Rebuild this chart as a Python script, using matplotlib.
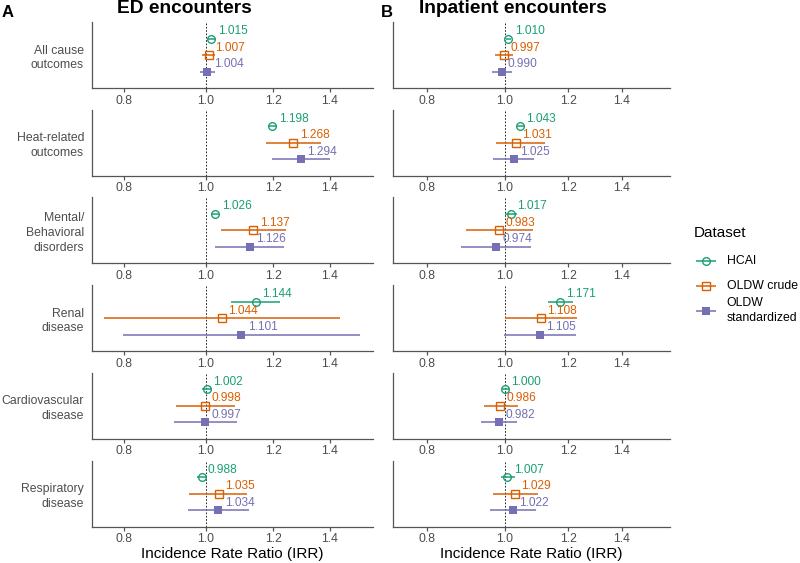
import matplotlib
matplotlib.use("Agg")
import matplotlib.pyplot as plt
from matplotlib.ticker import FixedLocator, FixedFormatter, NullLocator

plt.rcParams['font.family'] = ['Liberation Sans', 'DejaVu Sans']

# ---------------- data ----------------
outcomes = ["All cause\noutcomes", "Heat-related\noutcomes", "Mental/\nBehavioral\ndisorders",
            "Renal\ndisease", "Cardiovascular\ndisease", "Respiratory\ndisease"]
datasets = ["HCAI", "OLDW crude", "OLDW\nstandardized"]
colors = ["#1B9E77", "#D95F02", "#7570B3"]

# ED encounters: rows = datasets (HCAI, OLDW crude, OLDW standardized), cols = outcomes
ed_est = [[1.015, 1.198, 1.026, 1.144, 1.002, 0.988],
          [1.007, 1.268, 1.137, 1.044, 0.998, 1.035],
          [1.004, 1.294, 1.126, 1.101, 0.997, 1.034]]
ed_lo = [[1.006, 1.185, 1.014, 1.069, 0.988, 0.976],
         [0.988, 1.176, 1.042, 0.758, 0.922, 0.956],
         [0.984, 1.198, 1.025, 0.797, 0.917, 0.951]]
ed_hi = [[1.024, 1.212, 1.037, 1.223, 1.016, 1.001],
         [1.025, 1.366, 1.242, 1.439, 1.082, 1.119],
         [1.025, 1.400, 1.237, 1.520, 1.087, 1.125]]

# Inpatient encounters
ip_est = [[1.010, 1.043, 1.017, 1.171, 1.000, 1.007],
          [0.997, 1.031, 0.983, 1.108, 0.986, 1.029],
          [0.990, 1.025, 0.974, 1.105, 0.982, 1.022]]
ip_lo = [[1.003, 1.035, 1.000, 1.133, 0.991, 0.988],
         [0.972, 0.974, 0.894, 1.000, 0.940, 0.966],
         [0.962, 0.967, 0.881, 0.998, 0.933, 0.958]]
ip_hi = [[1.017, 1.055, 1.034, 1.215, 1.012, 1.029],
         [1.024, 1.122, 1.083, 1.229, 1.037, 1.098],
         [1.019, 1.087, 1.077, 1.227, 1.034, 1.092]]

x_ticks = [0.8, 1.0, 1.2, 1.4]
x_tick_labels = ["0.8", "1.0", "1.2", "1.4"]

# ---------------- styling ----------------
W, H = 800, 563
fig = plt.figure(figsize=(W / 100, H / 100), dpi=100)

markers = [dict(marker='o', mfc='none', ms=5.5, mew=1.0),
           dict(marker='s', mfc='none', ms=5.5, mew=1.0),
           dict(marker='s', ms=5.5, mew=0)]
ypos = [3, 2, 1]
spine_col = "#555555"
txt_col = "#4D4D4D"

panels = [
    dict(left=91.7, right=372.7, xlim=(0.733, 1.573), est=ed_est, lo=ed_lo, hi=ed_hi, rowlabels=True),
    dict(left=392.7, right=670.0, xlim=(0.724, 1.607), est=ip_est, lo=ip_lo, hi=ip_hi, rowlabels=False),
]

row_top0 = 22.0
row_h = 66.0
row_pitch = 87.7

for p in panels:
    for i, outc in enumerate(outcomes):
        top = row_top0 + i * row_pitch
        ax = fig.add_axes([p['left'] / W, 1 - (top + row_h) / H,
                           (p['right'] - p['left']) / W, row_h / H])
        ax.set_xscale('log')
        ax.set_xlim(*p['xlim'])
        ax.set_ylim(0, 4)
        ax.axvline(1.0, color='black', lw=0.6, ls=(0, (2, 2)), zorder=1)
        for d in range(3):
            e, l, h = p['est'][d][i], p['lo'][d][i], p['hi'][d][i]
            ax.plot([l, h], [ypos[d], ypos[d]], color=colors[d], lw=1.1, solid_capstyle='butt', zorder=2)
            ax.plot([e], [ypos[d]], color=colors[d], mec=colors[d], ls='none', zorder=3, **markers[d])
            ax.annotate(f"{e:.3f}", (e, ypos[d]), xytext=(4.6, 3.2), textcoords='offset points',
                        ha='left', va='baseline', color=colors[d], fontsize=8.6)
        for s in ['top', 'right']:
            ax.spines[s].set_visible(False)
        for s in ['left', 'bottom']:
            ax.spines[s].set_color(spine_col)
            ax.spines[s].set_linewidth(0.9)
        ax.xaxis.set_major_locator(FixedLocator(x_ticks))
        ax.xaxis.set_major_formatter(FixedFormatter(x_tick_labels))
        ax.xaxis.set_minor_locator(NullLocator())
        ax.tick_params(axis='x', length=2.8, width=0.9, color=spine_col, labelcolor=txt_col,
                       labelsize=8.8, pad=2.0)
        if p['rowlabels']:
            ax.set_yticks([2])
            ax.set_yticklabels([outc], fontsize=8.8, color=txt_col, linespacing=1.32)
            ax.tick_params(axis='y', length=0, pad=5.5)
        else:
            ax.set_yticks([])
        ax.yaxis.set_minor_locator(NullLocator())
        if i == len(outcomes) - 1:
            ax.set_xlabel("Incidence Rate Ratio (IRR)", fontsize=11, labelpad=1.5)

# titles and tags
fig.text(184.5 / W, 1 - 13.3 / H, "ED encounters", ha='center', va='baseline',
         fontsize=13.8, fontweight='bold')
fig.text(512.7 / W, 1 - 13.3 / H, "Inpatient encounters", ha='center', va='baseline',
         fontsize=13.8, fontweight='bold')
fig.text(1.7 / W, 1 - 16.7 / H, "A", ha='left', va='baseline', fontsize=12, fontweight='bold')
fig.text(380.7 / W, 1 - 16.7 / H, "B", ha='left', va='baseline', fontsize=12, fontweight='bold')

# legend (drawn in its own small axes, pixel-based layout)
lx0, lx1, ly0, ly1 = 680.0, 800.0, 215.0, 330.0
lax = fig.add_axes([lx0 / W, 1 - ly1 / H, (lx1 - lx0) / W, (ly1 - ly0) / H])
lax.set_xlim(lx0, lx1)
lax.set_ylim(ly1, ly0)
lax.axis('off')
lax.text(694, 233, "Dataset", fontsize=11, ha='left', va='center')
key_y = [260.7, 285.7, 310.7]
for d in range(3):
    lax.plot([696, 716], [key_y[d], key_y[d]], color=colors[d], lw=1.1, solid_capstyle='butt')
    lax.plot([706], [key_y[d]], color=colors[d], mec=colors[d], ls='none', **markers[d])
    lax.text(726.7, key_y[d], datasets[d], fontsize=8.8, ha='left', va='center', linespacing=1.32)

fig.savefig("out.png", dpi=100)
